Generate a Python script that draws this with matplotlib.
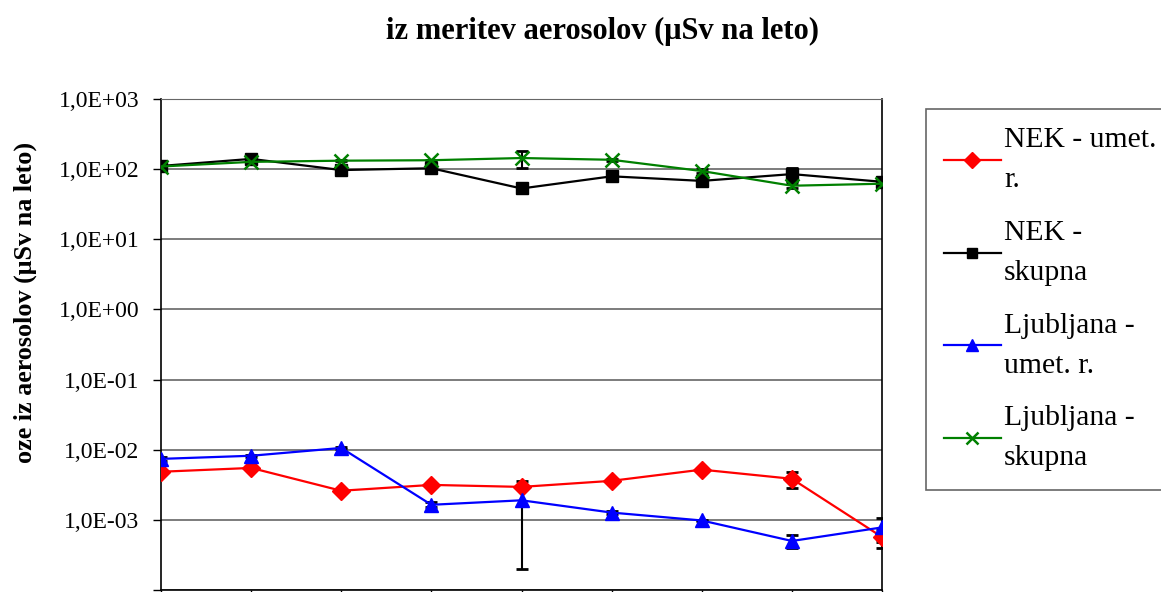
import numpy as np
import matplotlib
matplotlib.use('Agg')
import matplotlib.pyplot as plt
from matplotlib.ticker import FixedLocator, FuncFormatter, NullLocator

plt.rcParams['font.family'] = ['Liberation Serif', 'DejaVu Serif']

# data (9 sampling points, log scale)
points = np.arange(9)

nek_umet = [4.85e-3, 5.5e-3, 2.6e-3, 3.15e-3, 2.95e-3, 3.6e-3, 5.2e-3, 3.85e-3, 5.7e-4]
nek_umet_err = [1e-4, 1e-4, 1e-4, 1e-4, 1e-4, 1e-4, 1e-4, 1.0e-3, 1.7e-4]

nek_skupna = [111, 140, 97, 103, 53, 79, 68, 85, 66]
nek_skupna_err = [3, 3, 3, 3, 2, 3, 3, 18, 3]

lj_umet = [7.4e-3, 8.2e-3, 1.06e-2, 1.64e-3, 1.9e-3, 1.27e-3, 9.8e-4, 5.0e-4, 7.8e-4]
lj_umet_err = [4e-4, 2e-4, 3e-4, 1.3e-4, 1.7e-3, 5e-5, 3e-5, 1e-4, 3e-4]

lj_skupna = [109, 127, 132, 134, 144, 136, 94, 58, 62]
lj_skupna_err = [3, 4, 3, 3, 40, 4, 5, 5, 3]

series = [
    ('NEK - umet.\nr.', nek_umet, nek_umet_err, '#ff0000', 'D', 9),
    ('NEK -\nskupna', nek_skupna, nek_skupna_err, '#000000', 's', 8),
    ('Ljubljana -\numet. r.', lj_umet, lj_umet_err, '#0000ff', '^', 10),
    ('Ljubljana -\nskupna', lj_skupna, lj_skupna_err, '#008000', 'x', 10),
]

fig = plt.figure(figsize=(11.61, 5.92), dpi=100)
ax = fig.add_axes([161 / 1161, 2 / 592, (882 - 161) / 1161, (590 - 99) / 592])

for label, vals, errs, col, mk, ms in series:
    ax.errorbar(points, vals, yerr=errs, fmt='none', ecolor='black',
                elinewidth=1.5, capsize=4.5, capthick=2, zorder=2)
    ax.plot(points, vals, color=col, lw=1.6, marker=mk, markersize=ms,
            markerfacecolor=col, markeredgecolor=col, markeredgewidth=1.8 if mk == 'x' else 1,
            label=label, zorder=3)

ax.set_yscale('log')
ax.set_ylim(1e-4, 1e3)
ax.set_xlim(0, 8)

exps = list(range(-4, 4))
ax.yaxis.set_major_locator(FixedLocator([10.0 ** e for e in exps]))
ax.yaxis.set_minor_locator(NullLocator())
ax.yaxis.set_major_formatter(FuncFormatter(
    lambda v, p: '' if v < 5e-4 else '1,0E%+03d' % int(round(np.log10(v)))))
ax.set_xticks(points)
ax.set_xticklabels([])

ax.grid(axis='y', color='#666666', lw=1.2)
ax.set_axisbelow(True)
ax.tick_params(axis='y', labelsize=17, length=6, width=1, pad=9.5, direction='out')
ax.tick_params(axis='x', length=6, width=1, direction='out')
for s in ['left', 'right', 'bottom']:
    ax.spines[s].set_color('black')
    ax.spines[s].set_linewidth(1.2)
ax.spines['top'].set_color('#666666')

leg = ax.legend(loc='upper left', bbox_to_anchor=(926 / 1161, 1 - 109 / 592),
                bbox_transform=fig.transFigure, fontsize=21.3, frameon=True,
                fancybox=False, edgecolor='#404040', labelspacing=0.9,
                handlelength=1.9, handletextpad=0.12, borderpad=0.62,
                borderaxespad=0, markerscale=0.85)
leg.get_frame().set_linewidth(1.2)
for t in leg.get_texts():
    t.set_linespacing(1.7)

fig.text(603 / 1161, 1 - 31 / 592, 'iz meritev aerosolov (\u03bcSv na leto)',
         ha='center', va='center', fontsize=22, fontweight='bold')
fig.text(25 / 1161, 1 - 463 / 592, 'oze iz aerosolov (\u03bcSv na leto)',
         rotation=90, ha='center', va='bottom', fontsize=18.8, fontweight='bold')

fig.savefig('out.png', dpi=100)
